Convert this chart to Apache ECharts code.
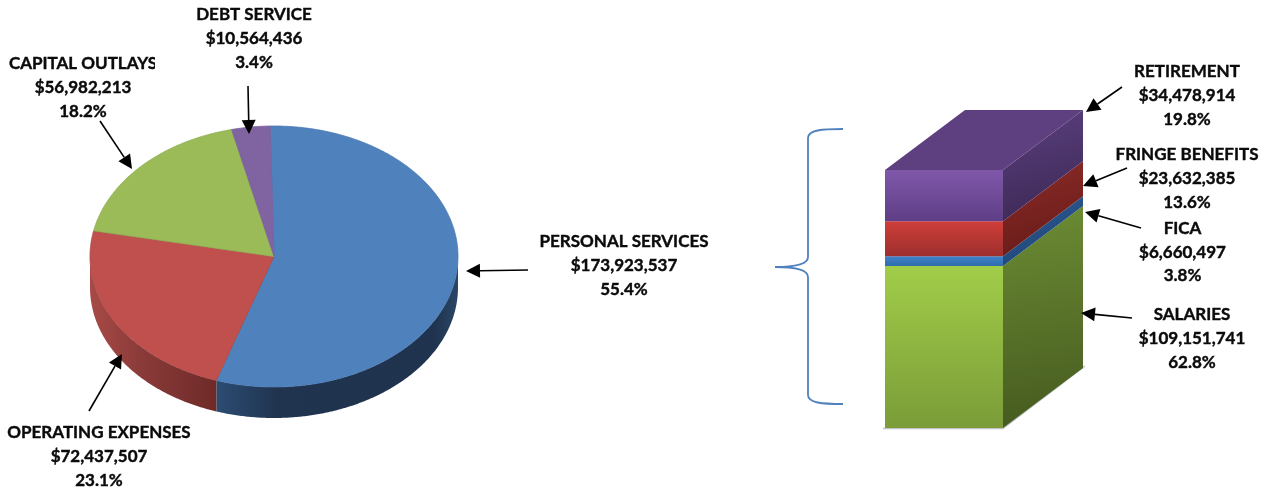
<!DOCTYPE html>
<html>
<head>
<meta charset="utf-8">
<title>Expenditures by category</title>
<style>html,body{margin:0;padding:0;background:#fff}#chart{width:1266px;height:493px}</style>
<script src="https://cdn.jsdelivr.net/npm/echarts@6/dist/echarts.min.js"></script>
</head>
<body>
<div id="chart"></div>
<script>
// Expenditure categories, clockwise from twelve o'clock
const pieNames = ['PERSONAL SERVICES', 'OPERATING EXPENSES', 'CAPITAL OUTLAYS', 'DEBT SERVICE'];
const pieValues = [173923537, 72437507, 56982213, 10564436];
const piePercents = ['55.4%', '23.1%', '18.2%', '3.4%'];

// Breakdown of personal services, bottom of the stack first
const barNames = ['SALARIES', 'FICA', 'FRINGE BENEFITS', 'RETIREMENT'];
const barValues = [109151741, 6660497, 23632385, 34478914];
const barPercents = ['62.8%', '3.8%', '13.6%', '19.8%'];

// Tilted pie geometry; turn is the first slice's start angle in degrees
const PIE = { cx: 274, cy: 256.5, rx: 184, ry: 130.5, depth: 31, turn: -1.2 };
const pieTop = ['#4f81bd', '#c0504d', '#9bbb59', '#8064a2'];
const pieEdge = ['#4a7ab3', '#a84a47', '#8fae52', '#7a5f9c'];
// Rim shading, left to right across each slice's visible rim
const pieWall = [
  [[0, '#2c4c72'], [0.25, '#20344f'], [0.9, '#1f334f'], [1, '#2a4666']],
  [[0, '#a84a47'], [0.4, '#8a3b39'], [1, '#6e2a28']],
  [[0, '#6f8a3a'], [1, '#6f8a3a']],
  [[0, '#5b4775'], [1, '#5b4775']]
];

// Box geometry: front face comes from the grid, the side is sheared back
const BOX = { dx: 80, dy: -60 };
const barFront = [
  ['#a1cd49', '#7b9c38'], ['#3f82cb', '#2f6cab'],
  ['#cf3e39', '#9c2f2d'], ['#8058aa', '#5e3e86']
];
const barSide = [
  ['#6c8c34', '#465b1f'], ['#2d5c93', '#20477a'],
  ['#8c2b27', '#691c1a'], ['#5a3f7e', '#3e2a57']
];
const barRoof = '#5e3f7f';

const pieTotal = pieValues.reduce((a, b) => a + b, 0);
const pieRows = pieValues.map((v, i) => [v, pieValues.slice(0, i).reduce((a, b) => a + b, 0)]);
const barTotal = barValues.reduce((a, b) => a + b, 0);
const barRows = barValues.map((v, i) => {
  const base = barValues.slice(0, i).reduce((a, b) => a + b, 0);
  return [base, base + v];
});

function pt(deg, dy) {
  const a = deg * Math.PI / 180;
  return [PIE.cx + PIE.rx * Math.sin(a), PIE.cy - PIE.ry * Math.cos(a) + (dy || 0)];
}
function arc(from, to, dy) {
  const pts = [];
  const steps = Math.max(2, Math.ceil(Math.abs(to - from) * 2));
  for (let k = 0; k <= steps; k++) pts.push(pt(from + (to - from) * k / steps, dy));
  return pts;
}

function renderSlice(params, api) {
  const i = params.dataIndex;
  const start = PIE.turn + api.value(1) / pieTotal * 360;
  const end = start + api.value(0) / pieTotal * 360;
  const children = [];
  // Only the near half of the rim is visible
  const wallFrom = Math.max(start, 90), wallTo = Math.min(end, 270);
  if (wallTo > wallFrom) {
    const top = arc(wallFrom, wallTo, 0);
    const bottom = arc(wallTo, wallFrom, PIE.depth);
    const xs = top.map(p => p[0]);
    children.push({
      type: 'polygon',
      shape: { points: top.concat(bottom) },
      style: {
        fill: {
          type: 'linear', global: true,
          x: Math.min.apply(null, xs), y: 0, x2: Math.max.apply(null, xs), y2: 0,
          colorStops: pieWall[i].map(s => ({ offset: s[0], color: s[1] }))
        }
      }
    });
  }
  children.push({
    type: 'polygon',
    shape: { points: [[PIE.cx, PIE.cy]].concat(arc(start, end, 0)) },
    style: { fill: pieTop[i], stroke: pieEdge[i], lineWidth: 0.8 }
  });
  return { type: 'group', children };
}

function vGrad(c) {
  return { type: 'linear', x: 0, y: 0, x2: 0, y2: 1, colorStops: [{ offset: 0, color: c[0] }, { offset: 1, color: c[1] }] };
}
function dGrad(c) {
  return { type: 'linear', x: 0, y: 0, x2: 0.35, y2: 1, colorStops: [{ offset: 0, color: c[0] }, { offset: 1, color: c[1] }] };
}

function renderSegment(params, api) {
  const i = params.dataIndex;
  const bl = api.coord([0, api.value(0)]);
  const tr = api.coord([1, api.value(1)]);
  const x0 = bl[0], x1 = tr[0], yb = bl[1], yt = tr[1];
  const children = [];
  if (i === 0) {
    // Soft contact line along the floor
    children.push({
      type: 'polyline',
      shape: { points: [[x0 - 2, yb + 0.5], [x1, yb + 0.5], [x1 + BOX.dx + 2, yb + BOX.dy - 2]] },
      style: { fill: null, stroke: '#c4c4c4', lineWidth: 1.5 }
    });
  }
  children.push({
    type: 'polygon',
    shape: { points: [[x1, yt], [x1 + BOX.dx, yt + BOX.dy], [x1 + BOX.dx, yb + BOX.dy], [x1, yb]] },
    style: { fill: dGrad(barSide[i]) }
  });
  children.push({
    type: 'rect',
    shape: { x: x0, y: yt, width: x1 - x0, height: yb - yt },
    style: { fill: vGrad(barFront[i]) }
  });
  if (i === barRows.length - 1) {
    children.push({
      type: 'polygon',
      shape: { points: [[x0, yt], [x0 + BOX.dx, yt + BOX.dy], [x1 + BOX.dx, yt + BOX.dy], [x1, yt]] },
      style: { fill: barRoof }
    });
  }
  return { type: 'group', children };
}

// Callout text blocks: centre x and the y of each of the three rows
const pieCallouts = [[624, [241, 265, 289]], [99, [432, 456, 480]], [83, [63, 87, 111]], [254, [14, 38, 62]]];
const barCallouts = [[1192, [314, 338, 362]], [1182.5, [228, 252, 275]], [1187, [154, 178, 202]], [1187, [71, 95, 119]]];

// Leader arrows: tail then tip
const arrows = [
  [[248, 86], [249, 134]], [[100, 121], [132, 169]], [[89, 411], [122, 354]], [[528, 270], [466, 271]],
  [[1122, 87], [1086, 112]], [[1127, 168], [1083, 186]], [[1141, 228], [1085, 212]], [[1132, 318], [1081, 313]]
];

function money(v) { return '$' + v.toLocaleString('en-US'); }

function textBlock(callout, name, value, percent) {
  return [name, money(value), percent].map((row, k) => ({
    type: 'text', z: 10,
    style: {
      x: callout[0], y: callout[1][k] + 1, text: row, align: 'center', verticalAlign: 'middle',
      font: 'bold 17px Lato, sans-serif', fill: '#0a0a0a', stroke: '#0a0a0a', lineWidth: 0.4
    }
  }));
}

function arrowGraphic(a) {
  const [tail, tip] = a;
  const len = Math.hypot(tip[0] - tail[0], tip[1] - tail[1]);
  const ux = (tip[0] - tail[0]) / len, uy = (tip[1] - tail[1]) / len;
  const head = 14, half = 7;
  const bx = tip[0] - ux * head, by = tip[1] - uy * head;
  return [
    { type: 'line', z: 10, shape: { x1: tail[0], y1: tail[1], x2: bx, y2: by }, style: { stroke: '#000', lineWidth: 1.6 } },
    { type: 'polygon', z: 10, shape: { points: [tip, [bx - uy * half, by + ux * half], [bx + uy * half, by - ux * half]] }, style: { fill: '#000' } }
  ];
}

function braceCurve(x1, y1, cx1, cy1, cx2, cy2, x2, y2) {
  return {
    type: 'bezierCurve', z: 10,
    shape: { x1, y1, cpx1: cx1, cpy1: cy1, cpx2: cx2, cpy2: cy2, x2, y2 },
    style: { fill: null, stroke: '#4f81bd', lineWidth: 1.8 }
  };
}
function braceStem(y1, y2) {
  return { type: 'line', z: 10, shape: { x1: 808, y1, x2: 808, y2 }, style: { stroke: '#4f81bd', lineWidth: 1.8 } };
}

const graphics = [];
pieNames.forEach((n, i) => graphics.push(...textBlock(pieCallouts[i], n, pieValues[i], piePercents[i])));
barNames.forEach((n, i) => graphics.push(...textBlock(barCallouts[i], n, barValues[i], barPercents[i])));
// The capital outlays title runs into its text box edge
graphics.push({ type: 'rect', z: 11, shape: { x: 155, y: 50, width: 14, height: 26 }, style: { fill: '#fff' } });
arrows.forEach(a => graphics.push(...arrowGraphic(a)));
// Brace tying the stacked box to the personal services slice
graphics.push(
  braceCurve(843, 129, 822, 129, 808, 130, 808, 138),
  braceStem(138, 257),
  braceCurve(808, 257, 808, 264, 796, 267, 775, 267),
  braceCurve(775, 267, 796, 267, 808, 270, 808, 277),
  braceStem(277, 395),
  braceCurve(808, 395, 808, 403, 822, 404, 843, 404)
);

const chart = echarts.init(document.getElementById('chart'), null, { renderer: 'canvas' });
chart.setOption({
  animation: false,
  backgroundColor: '#fff',
  grid: { left: 885, top: 170, width: 118, height: 258, containLabel: false },
  xAxis: { type: 'value', min: 0, max: 1, show: false },
  yAxis: { type: 'value', min: 0, max: barTotal, show: false },
  series: [
    { type: 'custom', coordinateSystem: 'none', renderItem: renderSlice, data: pieRows, silent: true },
    { type: 'custom', coordinateSystem: 'cartesian2d', clip: false, renderItem: renderSegment, data: barRows, silent: true, encode: { y: [0, 1] } }
  ],
  graphic: graphics
});
</script>
</body>
</html>
